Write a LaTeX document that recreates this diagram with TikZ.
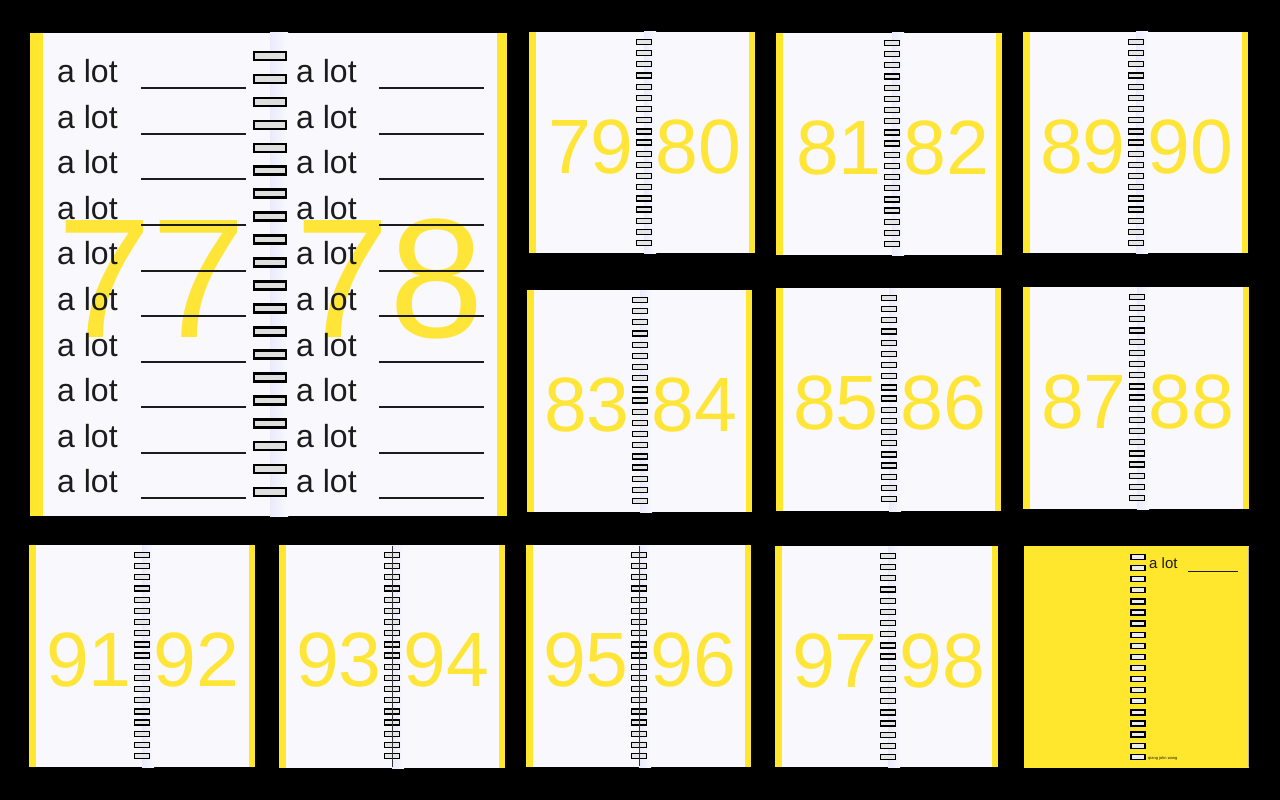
\documentclass[tikz,border=0pt]{standalone}
\usepackage{fontspec}
\setmainfont{Liberation Sans}
\usetikzlibrary{positioning}
\usetikzlibrary{calc}

\definecolor{pageyellow}{RGB}{255,231,45}
\definecolor{numyellow}{RGB}{255,229,55}
\definecolor{pagewhite}{RGB}{249,249,253}
\definecolor{inkblack}{RGB}{28,28,28}

% one small spread: x0, y0, x1, y1, spine, left number, right number
\newcommand{\smallspread}[7]{%
  \fill[pagewhite] (#1,#2) rectangle (#3,#4);
  \shade[left color=blue!6!pagewhite, right color=pagewhite] (#5,#2) rectangle (#5+12,#4);
  \fill[pageyellow] (#1,#2) rectangle (#1+7,#4);
  \fill[pageyellow] (#3-6,#2) rectangle (#3,#4);
  \node[bignum, anchor=base east] (n#6) at (#5-10,#2+141) {#6};
  \node[bignum, anchor=base west] (n#7) at (#5+11,#2+141) {#7};
  \foreach \k in {0,...,18}
    \draw[smallring] (#5-7.5,#2+7.5+11.17*\k) rectangle ++(15,5);
}

\begin{document}
\begin{tikzpicture}[
                x=1pt, y=-1pt,
                bignum/.style={font=\fontsize{77}{77}\selectfont, text=numyellow, inner sep=0pt},
                hugenum/.style={font=\fontsize{170}{170}\selectfont, text=numyellow, inner sep=0pt},
                alot/.style={font=\fontsize{32}{32}\selectfont, text=inkblack, inner sep=0pt},
                blank/.style={draw=inkblack, line width=2pt},
                bigring/.style={draw=black, line width=2.6pt, fill=gray!25},
                smallring/.style={draw=black, line width=1.3pt, fill=gray!20},
                spineline/.style={draw=black!80, line width=1pt}
            ]

            \useasboundingbox (0,0) rectangle (1280,800);
            \fill[black] (0,0) rectangle (1280,800);

            % Big spread with the lines
            \fill[pagewhite] (30,33) rectangle (507,516);
            \shade[left color=blue!6!pagewhite, right color=pagewhite] (270,33) rectangle (288,516);
            \fill[pageyellow] (30,33) rectangle (43,516);
            \fill[pageyellow] (497,33) rectangle (507,516);
            \node[hugenum, anchor=base west] (n77) at (57,337) {77};
            \node[hugenum, anchor=base west] (n78) at (295,337) {78};
            \foreach \r in {0,...,9} {
                \node[alot, anchor=base west] (lefttext\r) at (57,82.7+45.56*\r) {a lot};
                \node[alot, anchor=base west] (righttext\r) at (296,82.7+45.56*\r) {a lot};
                \draw[blank] (141,88.3+45.56*\r) -- (246,88.3+45.56*\r);
                \draw[blank] (379,88.3+45.56*\r) -- (484,88.3+45.56*\r);
            }
            \foreach \k in {0,...,19}
                \draw[bigring] (254,52+22.95*\k) rectangle ++(32,8);

            % Small spreads
            \smallspread{529}{32}{755}{253}{644}{79}{80}
            \smallspread{776}{33}{1002}{255}{892}{81}{82}
            \smallspread{1023}{32}{1248}{253}{1136}{89}{90}
            \smallspread{527}{290}{752}{512}{640}{83}{84}
            \smallspread{776}{288}{1001}{511}{889}{85}{86}
            \smallspread{1023}{287}{1249}{509}{1137}{87}{88}
            \smallspread{29}{545}{255}{767}{142}{91}{92}
            \smallspread{279}{545}{505}{768}{392}{93}{94}
            \smallspread{526}{545}{751}{767}{639}{95}{96}
            \smallspread{775}{546}{998}{767}{888}{97}{98}
            \draw[spineline] (392,546) -- (392,767);
            \draw[spineline] (639,546) -- (639,766);

            % Yellow cover
            \fill[pageyellow] (1024,546) rectangle (1249,768);
            \draw[gray!60, line width=0.8pt] (1248,547) -- (1248,767);
            \foreach \k in {0,...,18}
                \draw[smallring, fill=gray!15] (1131,554.5+11.1*\k) rectangle ++(14,5);
            \node[font=\fontsize{15}{15}\selectfont, text=inkblack, inner sep=0pt, anchor=base west] (covertext) at (1149,568) {a lot};
            \draw[draw=inkblack, line width=1pt] (1188,571) -- (1238,571);
            \node[font=\fontsize{4}{4}\selectfont, text=inkblack, inner sep=0pt, anchor=base west] (author) at (1148,759) {qiang john wang};

        \end{tikzpicture}
\end{document}
